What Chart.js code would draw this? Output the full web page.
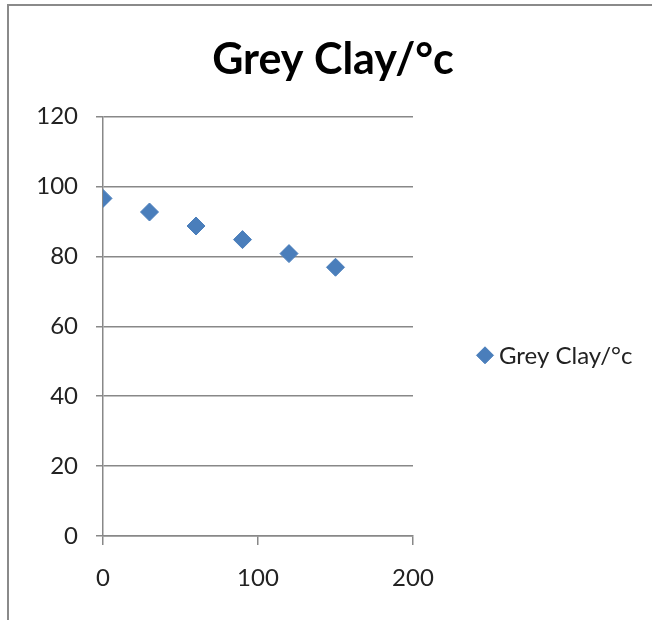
<!DOCTYPE html>
<html>
<head>
<meta charset="utf-8">
<script src="https://cdn.jsdelivr.net/npm/chart.js@4.4.1/dist/chart.umd.min.js"></script>
<style>
  html, body { margin: 0; padding: 0; background: #fff; }
  #wrap { position: relative; width: 652px; height: 620px; }
  #frame { position: absolute; left: 7px; top: 4px; width: 660px; height: 640px;
           border-top: 2px solid #8a8a8a; border-left: 2px solid #8a8a8a; }
  canvas { position: absolute; left: 0; top: 0; }
</style>
</head>
<body>
<div id="wrap">
  <div id="frame"></div>
  <canvas id="chart" width="652" height="620"></canvas>
</div>
<script>
const seriesName = "Grey Clay/°c";
const timeValues = [0, 30, 60, 90, 120, 150];
const tempValues = [96.6, 92.7, 88.7, 84.8, 80.8, 76.9];
const xTicks = [0, 100, 200];
const yTicks = [0, 20, 40, 60, 80, 100, 120];

const fontFamily = "Lato, 'Open Sans', sans-serif";
const gridColor = "#888888";
const pointColor = "#4a7ebb";

// Excel puts the title over the whole chart and the legend off to the right
const excelLayout = {
  id: "excelLayout",
  afterLayout(chart) {
    chart.titleBlock.left += 14;
    chart.titleBlock.right += 239;
  },
  afterDraw(chart) {
    const { ctx, chartArea } = chart;
    const ds = chart.data.datasets[0];
    const x = chartArea.right + 72;
    const y = (chartArea.top + chartArea.bottom) / 2 + 29;
    ctx.save();
    ctx.fillStyle = ds.backgroundColor;
    ctx.strokeStyle = ds.borderColor;
    ctx.lineWidth = 1;
    Chart.helpers.drawPoint(ctx, { pointStyle: ds.pointStyle, radius: 8.5, borderWidth: 1 }, x, y);
    ctx.fillStyle = "#222";
    ctx.font = `24px ${fontFamily}`;
    ctx.textBaseline = "middle";
    ctx.fillText(ds.label, x + 14, y + 1);
    ctx.restore();
  },
};

new Chart(document.getElementById("chart"), {
  type: "scatter",
  data: {
    datasets: [{
      label: seriesName,
      data: timeValues.map((x, i) => ({ x, y: tempValues[i] })),
      pointStyle: "rectRot",
      pointRadius: 9,
      pointHoverRadius: 9,
      backgroundColor: pointColor,
      borderColor: pointColor,
      borderWidth: 1,
    }],
  },
  options: {
    responsive: false,
    animation: false,
    layout: { padding: { left: 0, right: 239, top: 0, bottom: 0 } },
    plugins: {
      title: {
        display: true,
        text: seriesName,
        color: "#000",
        font: { family: fontFamily, size: 43, weight: "bold" },
        padding: { top: 34, bottom: 31 },
      },
      legend: { display: false },
      tooltip: { enabled: false },
    },
    scales: {
      x: {
        type: "linear",
        min: 0,
        max: 200,
        afterBuildTicks: (scale) => { scale.ticks = xTicks.map((v) => ({ value: v })); },
        afterFit: (scale) => { scale.height = 84; },
        border: { color: gridColor, width: 1.5 },
        grid: { drawOnChartArea: false, drawTicks: true, tickLength: 9, color: gridColor, lineWidth: 1.5 },
        ticks: { color: "#222", padding: 19, font: { family: fontFamily, size: 24 } },
      },
      y: {
        min: 0,
        max: 120,
        afterBuildTicks: (scale) => { scale.ticks = yTicks.map((v) => ({ value: v })); },
        afterFit: (scale) => { scale.width = 103; },
        border: { color: gridColor, width: 1.5 },
        grid: { color: gridColor, lineWidth: 1.5, tickLength: 7 },
        ticks: { color: "#222", padding: 18, font: { family: fontFamily, size: 24 } },
      },
    },
  },
  plugins: [excelLayout],
});
</script>
</body>
</html>
